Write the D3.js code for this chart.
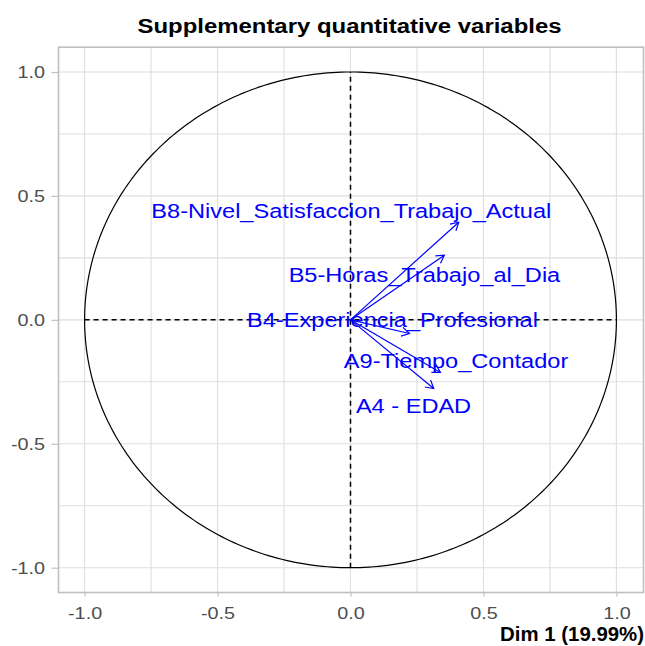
<!DOCTYPE html>
<html>
<head>
<meta charset="utf-8">
<script src="https://cdn.jsdelivr.net/npm/d3@7"></script>
<style>
  html, body { margin: 0; padding: 0; background: #fff; }
  svg { display: block; }
  text { font-family: "Liberation Sans", Arial, sans-serif; }
</style>
</head>
<body>
<svg id="chart" width="645" height="646"></svg>
<script>
// ---- Data ----
const variables = ["B8-Nivel_Satisfaccion_Trabajo_Actual", "B5-Horas_Trabajo_al_Dia", "B4-Experiencia_Profesional", "A9-Tiempo_Contador", "A4 - EDAD"];
const dim1 = [0.407, 0.353, 0.222, 0.338, 0.313];
const dim2 = [0.394, 0.261, -0.055, -0.212, -0.277];
// label anchor coordinates (as placed by the repel step in the original)
const labelDim1 = [0.003, 0.278, 0.158, 0.397, 0.237];
const labelDim2 = [0.440, 0.181, 0.003, -0.164, -0.347];
const xTicks = [-1.0, -0.5, 0.0, 0.5, 1.0];
const yTicks = [-1.0, -0.5, 0.0, 0.5, 1.0];
const minorTicks = [-0.75, -0.25, 0.25, 0.75];
const titleText = "Supplementary quantitative variables";
const xTitle = "Dim 1 (19.99%)";

// ---- Layout ----
const svg = d3.select("#chart");
const panel = { left: 58, right: 643, top: 47.2, bottom: 592.5 };
const x = d3.scaleLinear().domain([-1.1, 1.1]).range([panel.left, panel.right]);
const y = d3.scaleLinear().domain([-1.1, 1.1]).range([panel.bottom, panel.top]);
const blue = "#0000FF";
const fmt = d => d3.format(".1f")(d).replace("\u2212", "-");

// background
svg.append("rect").attr("width", 645).attr("height", 646).attr("fill", "#fff");

// gridlines
const grid = svg.append("g");
[...minorTicks, ...xTicks].forEach(v => {
  grid.append("line").attr("x1", x(v)).attr("x2", x(v)).attr("y1", panel.top).attr("y2", panel.bottom)
    .attr("stroke", "#DEDEDE").attr("stroke-width", 1.1);
});
[...minorTicks, ...yTicks].forEach(v => {
  grid.append("line").attr("y1", y(v)).attr("y2", y(v)).attr("x1", panel.left).attr("x2", panel.right)
    .attr("stroke", "#DEDEDE").attr("stroke-width", 1.1);
});

// panel border
svg.append("rect")
  .attr("x", panel.left + 0.5).attr("y", panel.top)
  .attr("width", panel.right - panel.left).attr("height", panel.bottom - panel.top)
  .attr("fill", "none").attr("stroke", "#C0C0C0").attr("stroke-width", 1.6);

// axes (ticks + labels) via d3 axes
const xAxis = d3.axisBottom(x).tickValues(xTicks).tickFormat(fmt).tickSize(4).tickPadding(4);
const yAxis = d3.axisLeft(y).tickValues(yTicks).tickFormat(fmt).tickSize(7).tickPadding(6);

const gx = svg.append("g").attr("transform", `translate(0,${panel.bottom})`).call(xAxis);
const gy = svg.append("g").attr("transform", `translate(${panel.left + 0.5},0)`).call(yAxis);
[gx, gy].forEach(g => {
  g.select(".domain").remove();
  g.selectAll(".tick line").attr("stroke", "#C0C0C0").attr("stroke-width", 1.2);
  g.selectAll(".tick text")
    .attr("fill", "#4D4D4D")
    .attr("font-size", 16.5)
    .attr("font-family", "Liberation Sans, Arial, sans-serif");
});
// stretch tick labels horizontally to mimic the original's wide rendering
gx.selectAll(".tick text").attr("dy", null).attr("y", null)
  .attr("transform", "translate(0,26.5) scale(1.2,1)").attr("text-anchor", "middle");
gy.selectAll(".tick text").attr("dy", null).attr("x", null)
  .attr("transform", "translate(-13.5,6) scale(1.2,1)").attr("text-anchor", "end");

// circle (unit correlation circle)
const circ = d3.range(0, 361, 1).map(a => [Math.cos(a * Math.PI / 180), Math.sin(a * Math.PI / 180)]);
svg.append("path")
  .attr("d", d3.line().x(d => x(d[0])).y(d => y(d[1]))(circ))
  .attr("fill", "none").attr("stroke", "#000").attr("stroke-width", 1.2);

// dashed axes lines
svg.append("line").attr("x1", x(-1)).attr("x2", x(1)).attr("y1", y(0)).attr("y2", y(0))
  .attr("stroke", "#000").attr("stroke-width", 1.5).attr("stroke-dasharray", "5,4");
svg.append("line").attr("x1", x(0)).attr("x2", x(0)).attr("y1", y(-1)).attr("y2", y(1))
  .attr("stroke", "#000").attr("stroke-width", 1.5).attr("stroke-dasharray", "5,4");

// arrows
const arrows = svg.append("g");
const headLen = 9, headAng = Math.PI / 6;
variables.forEach((name, i) => {
  const x0 = x(0), y0 = y(0), x1 = x(dim1[i]), y1 = y(dim2[i]);
  arrows.append("line").attr("x1", x0).attr("y1", y0).attr("x2", x1).attr("y2", y1)
    .attr("stroke", blue).attr("stroke-width", 1.2);
  const ang = Math.atan2(y1 - y0, x1 - x0);
  const p1 = [x1 - headLen * Math.cos(ang - headAng), y1 - headLen * Math.sin(ang - headAng)];
  const p2 = [x1 - headLen * Math.cos(ang + headAng), y1 - headLen * Math.sin(ang + headAng)];
  arrows.append("path").attr("d", `M${p1[0]},${p1[1]}L${x1},${y1}L${p2[0]},${p2[1]}`)
    .attr("fill", "none").attr("stroke", blue).attr("stroke-width", 1.2);
});

// labels
const labels = svg.append("g");
variables.forEach((name, i) => {
  labels.append("text")
    .attr("transform", `translate(${x(labelDim1[i])},${y(labelDim2[i]) + 7.5}) scale(1.123,1)`)
    .attr("text-anchor", "middle")
    .attr("font-size", 21)
    .attr("fill", blue)
    .text(name);
});

// title
svg.append("text")
  .attr("transform", `translate(349.5,33.3) scale(1.14,1)`)
  .attr("text-anchor", "middle")
  .attr("font-size", 21).attr("font-weight", "bold").attr("fill", "#000")
  .text(titleText);

// x axis title
svg.append("text")
  .attr("x", 644).attr("y", 640.5)
  .attr("text-anchor", "end")
  .attr("font-size", 20.4).attr("font-weight", "bold").attr("fill", "#000")
  .text(xTitle);
</script>
</body>
</html>
